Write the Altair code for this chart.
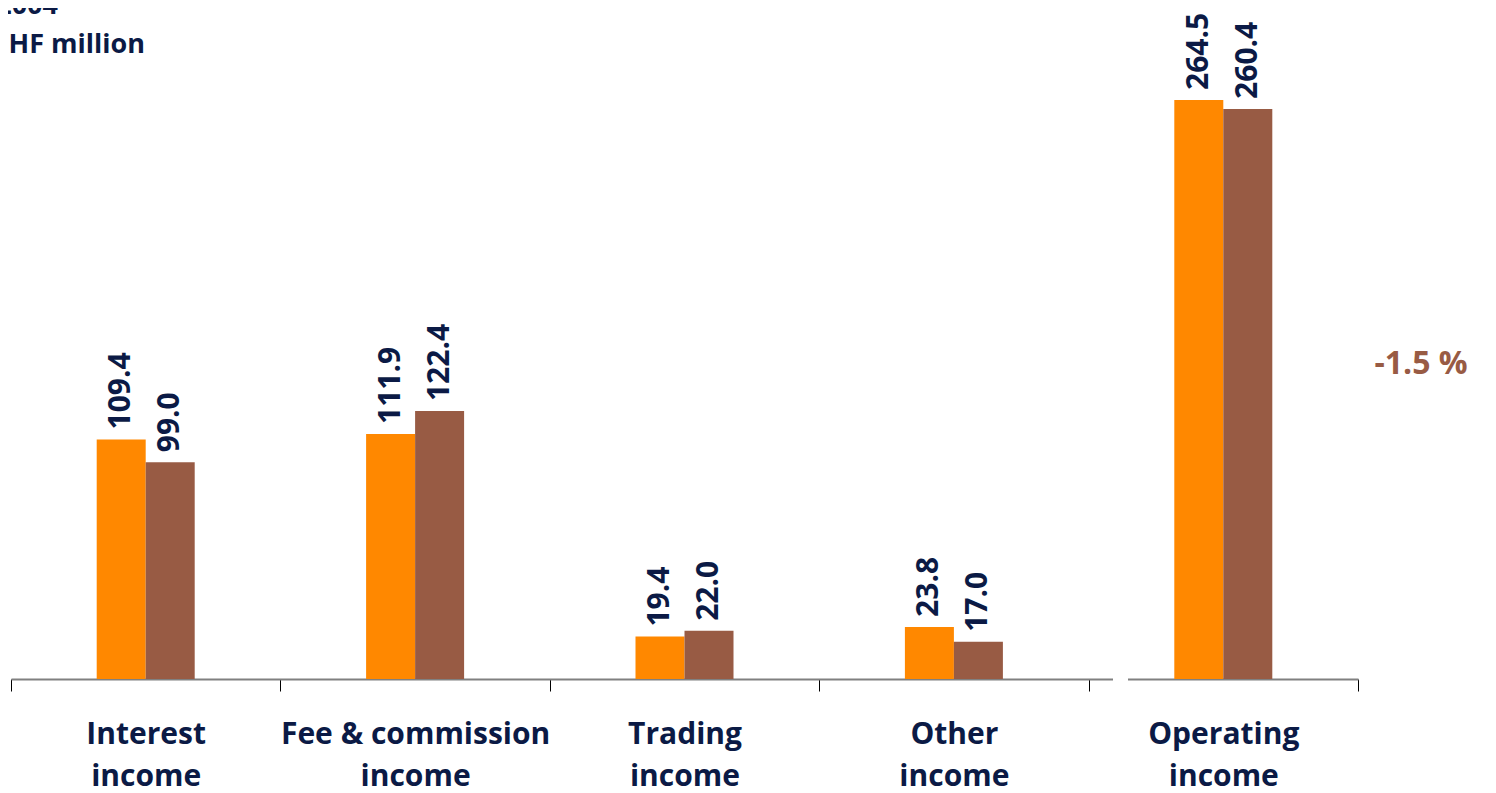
import altair as alt
import pandas as pd

categories = ["Interest\nincome", "Fee & commission\nincome", "Trading\nincome",
              "Other\nincome", "Operating\nincome"]
series = ["2003", "2004"]
values_prev = [109.4, 111.9, 19.4, 23.8, 264.5]
values_curr = [99.0, 122.4, 22.0, 17.0, 260.4]
change_label = "-1.5 %"
title_lines = ["2004", "CHF million"]

NAVY = "#0B1A45"
ORANGE = "#FF8800"
BROWN = "#985B44"
FONT = "Open Sans"

rows = []
for c, a, b in zip(categories, values_prev, values_curr):
    rows.append({"cat": c, "series": series[0], "value": a, "label": f"{a:.1f}"})
    rows.append({"cat": c, "series": series[1], "value": b, "label": f"{b:.1f}"})
df = pd.DataFrame(rows)

W, H = 1347, 671
BAND = W / len(categories)
BARW = 49

x = alt.X("cat:N", sort=categories, title=None,
          scale=alt.Scale(paddingInner=0, paddingOuter=0),
          axis=alt.Axis(labelExpr="split(datum.label, '\\n')", labelAngle=0,
                        labelFont=FONT, labelFontSize=30, labelFontWeight="bold",
                        labelColor=NAVY, labelLineHeight=42, labelPadding=28,
                        labelBaseline="top", labelLimit=500,
                        tickBand="extent", tickSize=12, tickColor="#000000", tickWidth=1,
                        domainColor="#808080", domainWidth=2, grid=False))
y = alt.Y("value:Q", axis=None, scale=alt.Scale(domain=[0, 306.5], nice=False, zero=True))
xo = alt.XOffset("series:N", sort=series,
                 scale=alt.Scale(paddingInner=0, paddingOuter=0,
                                 range=[BAND / 2 - BARW, BAND / 2 + BARW]))

base = alt.Chart(df)

bars = base.mark_bar().encode(
    x=x, y=y, xOffset=xo,
    color=alt.Color("series:N", sort=series, legend=None,
                    scale=alt.Scale(domain=series, range=[ORANGE, BROWN])),
)

labels = base.mark_text(angle=270, align="left", baseline="middle", dx=10,
                        font=FONT, fontSize=30, fontWeight="bold", color=NAVY).encode(
    x=x, y=y, xOffset=xo, text="label:N")

gap = alt.Chart(pd.DataFrame({"k": [0]})).mark_rect(color="white").encode(
    x=alt.value(1102), x2=alt.value(1117), y=alt.value(667), y2=alt.value(675))

change = alt.Chart(pd.DataFrame({"t": [change_label]})).mark_text(
    font=FONT, fontSize=32, fontWeight="bold", color=BROWN, align="center",
    baseline="middle").encode(x=alt.value(1410), y=alt.value(356), text="t:N")

titles = alt.layer(*[
    alt.Chart(pd.DataFrame({"t": [t]})).mark_text(
        font=FONT, fontSize=27, fontWeight="bold", color=NAVY, align="right",
        baseline="alphabetic").encode(x=alt.value(xx), y=alt.value(yy), text="t:N")
    for t, xx, yy in zip(title_lines, [47, 134], [6, 45])
])

chart = alt.layer(bars, labels, gap, change, titles).properties(
    width=W, height=H,
    autosize=alt.AutoSizeParams(type="none"),
    padding={"left": 3, "top": 0, "right": 130, "bottom": 114},
).configure(background="white").configure_view(strokeWidth=0, stroke="transparent")

chart.save("out.html", embed_options={"renderer": "svg", "actions": False})
